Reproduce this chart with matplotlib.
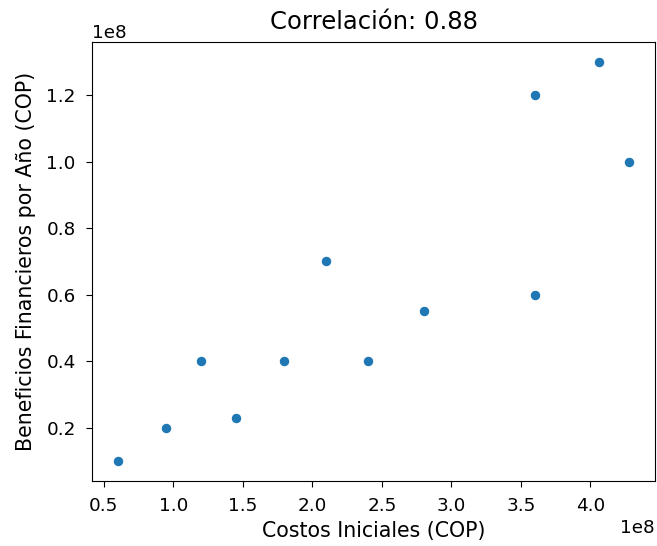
import matplotlib
matplotlib.use("Agg")
import matplotlib.pyplot as plt
import numpy as np

costos = [0.6e8, 0.95e8, 1.2e8, 1.45e8, 1.8e8, 2.1e8, 2.4e8, 2.8e8, 3.6e8, 3.6e8, 4.06e8, 4.28e8]
beneficios = [0.1e8, 0.2e8, 0.4e8, 0.23e8, 0.4e8, 0.7e8, 0.4e8, 0.55e8, 1.2e8, 0.6e8, 1.3e8, 1.0e8]
titulo = "Correlación: 0.88"
xlabel = "Costos Iniciales (COP)"
ylabel = "Beneficios Financieros por Año (COP)"

plt.rcParams['font.size'] = 13.2
plt.rcParams['xtick.major.size'] = 4.2
plt.rcParams['ytick.major.size'] = 4.2
plt.rcParams['xtick.major.pad'] = 7.5
plt.rcParams['ytick.major.pad'] = 7.5
fig = plt.figure(figsize=(6.57, 5.46), dpi=100)
ax = fig.add_axes([0.140, 0.119, 0.857, 0.8046])
ax.scatter(costos, beneficios, s=60, color="#1f77b4", edgecolors="white", linewidths=0.9)
ax.margins(0.05)
ax.set_xticks(np.arange(0.5e8, 4.01e8, 0.5e8))
ax.set_yticks(np.arange(0.2e8, 1.21e8, 0.2e8))
ax.set_title(titulo, fontsize=17.5, pad=9)
ax.set_xlabel(xlabel, fontsize=14.8, labelpad=4.3)
ax.set_ylabel(ylabel, fontsize=14.8, labelpad=7.2)
fig.savefig("out.png", dpi=100)
